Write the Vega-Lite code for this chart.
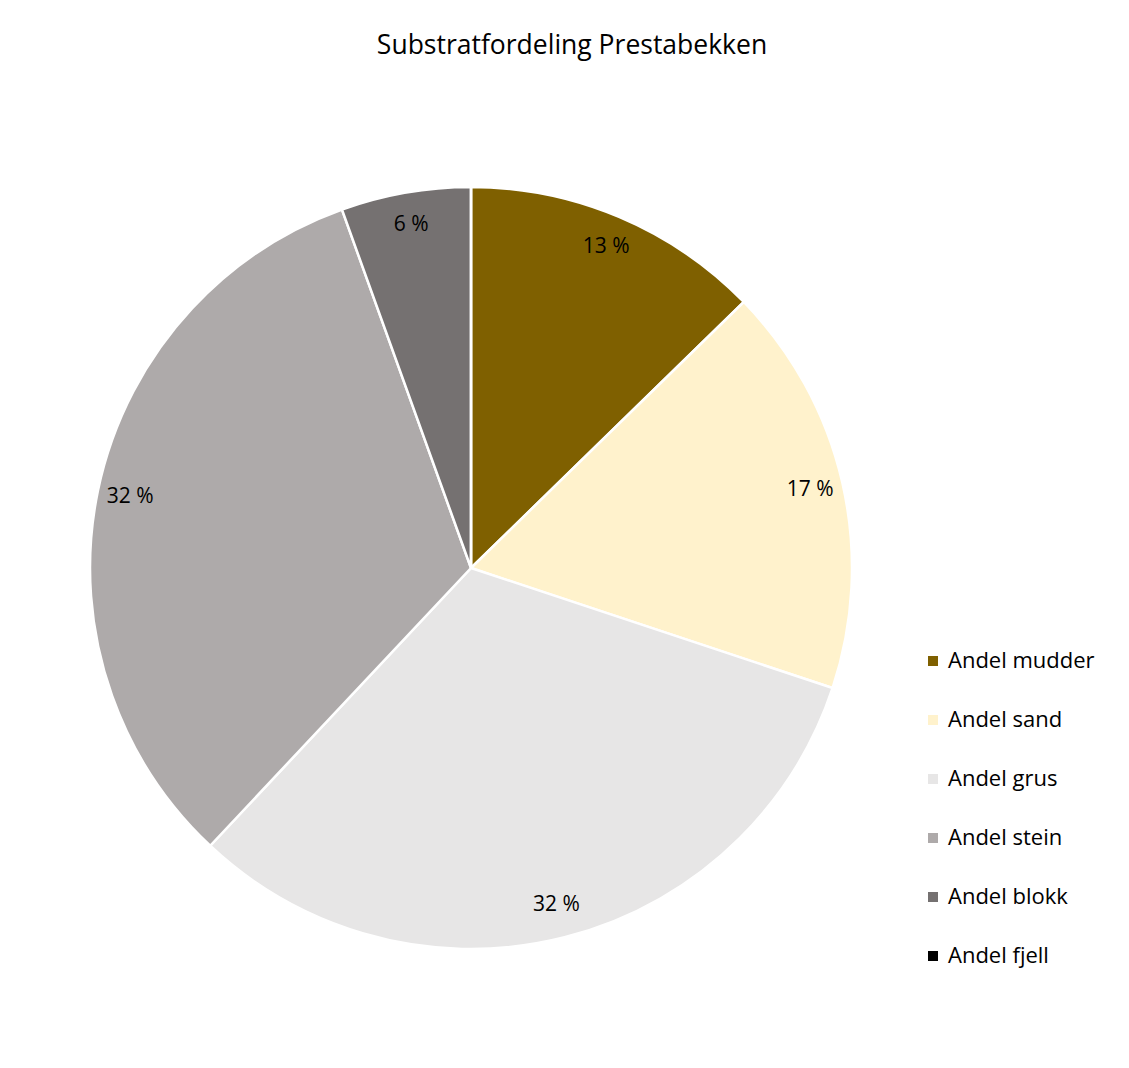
{
  "$schema": "https://vega.github.io/schema/vega-lite/v6.json",
  "width": 762,
  "height": 762,
  "autosize": {"type": "none"},
  "padding": {"left": 90, "top": 187, "right": 277, "bottom": 119},
  "background": "white",
  "config": {"view": {"stroke": null}, "font": "Open Sans"},
  "title": {
    "text": "Substratfordeling Prestabekken",
    "fontSize": 26.5,
    "fontWeight": "normal",
    "font": "Open Sans",
    "color": "#000000",
    "anchor": "middle",
    "dx": 101,
    "baseline": "middle",
    "offset": 110
  },
  "data": {
    "values": [
      {"i": 1, "kategori": "Andel mudder", "andel": 12.7, "label": "13 %"},
      {"i": 2, "kategori": "Andel sand", "andel": 17.4, "label": "17 %"},
      {"i": 3, "kategori": "Andel grus", "andel": 31.9, "label": "32 %"},
      {"i": 4, "kategori": "Andel stein", "andel": 32.5, "label": "32 %"},
      {"i": 5, "kategori": "Andel blokk", "andel": 5.5, "label": "6 %"},
      {"i": 6, "kategori": "Andel fjell", "andel": 0, "label": ""}
    ]
  },
  "encoding": {
    "theta": {"field": "andel", "type": "quantitative", "stack": true},
    "order": {"field": "i", "type": "quantitative"}
  },
  "layer": [
    {
      "mark": {"type": "arc", "stroke": "white", "strokeWidth": 2.5, "outerRadius": 381},
      "encoding": {
        "color": {
          "field": "kategori",
          "type": "nominal",
          "scale": {
            "domain": ["Andel mudder", "Andel sand", "Andel grus", "Andel stein", "Andel blokk", "Andel fjell"],
            "range": ["#7F6000", "#FFF2CC", "#E7E6E6", "#AEAAAA", "#757171", "#000000"]
          },
          "legend": {
            "title": null,
            "orient": "none",
            "legendX": 832,
            "legendY": 463,
            "symbolType": "square",
            "symbolSize": 100,
            "symbolStrokeWidth": 0,
            "labelFontSize": 22,
            "labelFont": "Open Sans",
            "labelColor": "#000000",
            "labelOffset": 4,
            "rowPadding": 37,
            "padding": 0
          }
        }
      }
    },
    {
      "mark": {"type": "text", "radius": 348, "fontSize": 21, "font": "Open Sans", "color": "#000000"},
      "encoding": {"text": {"field": "label", "type": "nominal"}}
    }
  ]
}
